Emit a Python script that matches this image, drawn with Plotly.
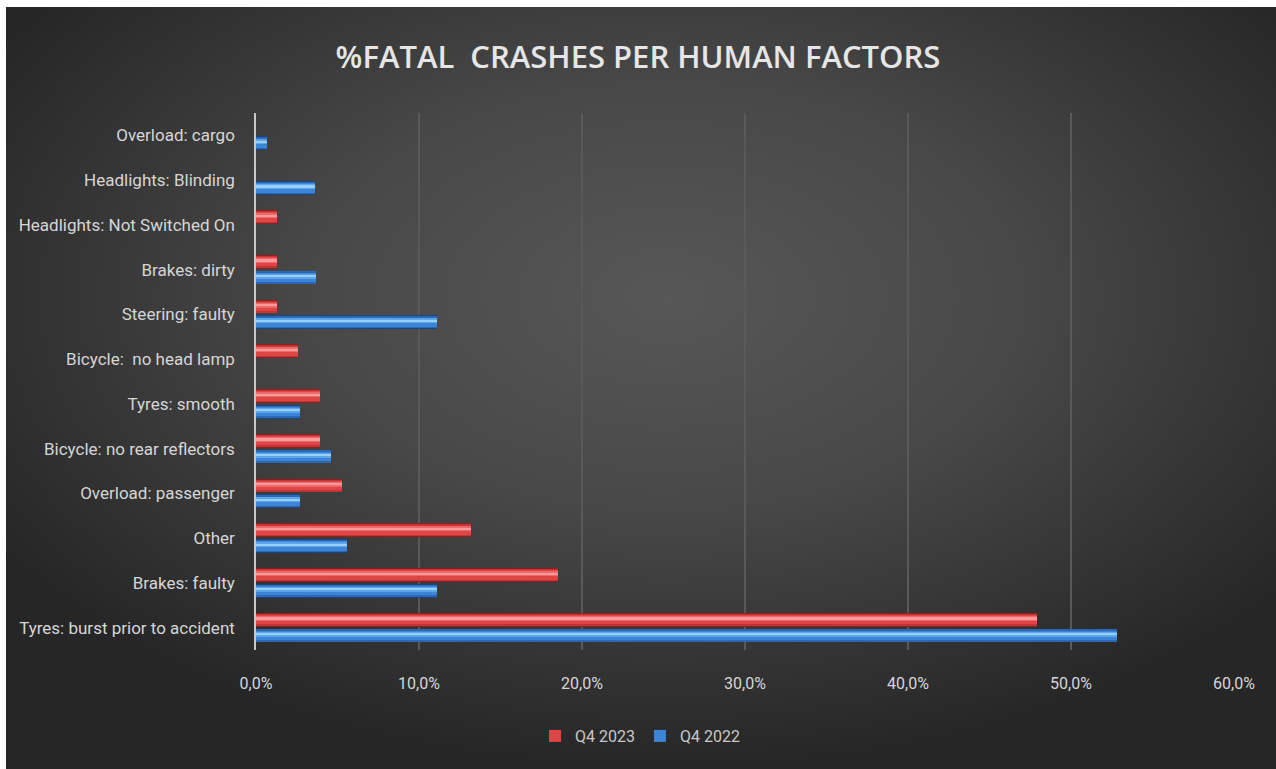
import plotly.graph_objects as go

# Human factors, listed top to bottom as shown on the chart
factors = [
    "Overload: cargo",
    "Headlights: Blinding",
    "Headlights: Not Switched On",
    "Brakes: dirty",
    "Steering: faulty",
    "Bicycle:\u00a0 no head lamp",
    "Tyres: smooth",
    "Bicycle: no rear reflectors",
    "Overload: passenger",
    "Other",
    "Brakes: faulty",
    "Tyres: burst prior to accident",
]
# Share of fatal crashes (%)
q4_2023 = [0, 0, 1.3, 1.3, 1.3, 2.6, 3.9, 3.9, 5.3, 13.2, 18.5, 47.9]
q4_2022 = [0.7, 3.6, 0, 3.7, 11.1, 0, 2.7, 4.6, 2.7, 5.6, 11.1, 52.8]
x_ticks = [0, 10, 20, 30, 40, 50, 60]
x_tick_labels = ["0,0%", "10,0%", "20,0%", "30,0%", "40,0%", "50,0%", "60,0%"]

W, H = 1276, 769
L, R, T, B = 256, 42, 113, 119
plot_w, plot_h = W - L - R, H - T - B

FONT = "Roboto, sans-serif"

fig = go.Figure()

# Cylinder-like bars: dark base, body layers and a light highlight stripe
red_layers = [
    ("#8e1f1f", 0.02, 0.31),
    ("#c43434", 0.04, 0.27),
    ("#de4646", 0.07, 0.21),
    ("#ee6a6a", 0.15, 0.11),
    ("#fb9a9a", 0.18, 0.05),
]
blue_layers = [
    ("#1a4580", -0.33, 0.31),
    ("#2a68b8", -0.31, 0.27),
    ("#3b84d6", -0.28, 0.21),
    ("#5ea6ea", -0.20, 0.11),
    ("#94d0fb", -0.17, 0.05),
]

for name, vals, layers in (("Q4 2023", q4_2023, red_layers),
                           ("Q4 2022", q4_2022, blue_layers)):
    for i, (col, off, wid) in enumerate(layers):
        fig.add_trace(go.Bar(
            x=vals, y=factors, orientation="h",
            name=name, legendgroup=name, showlegend=(i == 2),
            offset=off, width=wid,
            marker=dict(color=col, line=dict(width=0)),
            hovertemplate="%{y}: %{x:.1f}%<extra>" + name + "</extra>",
        ))

# Dark radial background panel
bg_svg = (
    "data:image/svg+xml;utf8,"
    "<svg xmlns='http://www.w3.org/2000/svg' width='1270' height='762' "
    "preserveAspectRatio='none'>"
    "<defs><radialGradient id='g' cx='0.52' cy='0.38' r='0.62'>"
    "<stop offset='0' stop-color='%23575757'/>"
    "<stop offset='0.45' stop-color='%23484848'/>"
    "<stop offset='1' stop-color='%23262626'/>"
    "</radialGradient></defs>"
    "<rect width='1270' height='762' fill='url(%23g)'/></svg>"
)

fig.update_layout(
    width=W, height=H,
    margin=dict(l=L, r=R, t=T, b=B),
    paper_bgcolor="white",
    plot_bgcolor="rgba(0,0,0,0)",
    barmode="overlay",
    font=dict(family=FONT, size=17, color="#d6d6d6"),
    images=[dict(
        source=bg_svg, xref="paper", yref="paper",
        x=(6 - L) / plot_w, y=(H - B - 7) / plot_h,
        sizex=(W - 6) / plot_w, sizey=(H - 7) / plot_h,
        xanchor="left", yanchor="top", sizing="stretch", layer="below",
    )],
    title=dict(
        text="%FATAL  CRASHES PER HUMAN FACTORS",
        x=0.5, xref="container", xanchor="center",
        y=1 - 57 / H, yref="container", yanchor="middle",
        font=dict(family="Open Sans, sans-serif", size=31, color="#e6e6e6",
                  weight=600),
    ),
    xaxis=dict(
        range=[0, 60], tickvals=x_ticks, ticktext=x_tick_labels,
        showgrid=True, gridcolor="#595959", gridwidth=2,
        zeroline=False, showline=False, ticks="",
        ticklabelstandoff=22,
        tickfont=dict(family=FONT, size=16, color="#d6d6d6"),
        fixedrange=True,
    ),
    yaxis=dict(
        categoryorder="array", categoryarray=factors[::-1],
        range=[-0.5, len(factors) - 0.5],
        showgrid=False, zeroline=False,
        showline=True, linecolor="#c8c8c8", linewidth=1.5,
        ticks="", ticklabelstandoff=16,
        tickfont=dict(family=FONT, size=17, color="#d6d6d6"),
        fixedrange=True,
    ),
    legend=dict(
        orientation="h", x=(640 - L) / plot_w, xanchor="center",
        y=-(736 - (H - B)) / plot_h, yanchor="middle",
        bgcolor="rgba(0,0,0,0)",
        font=dict(family=FONT, size=16, color="#c8c8c8"),
        itemwidth=30, traceorder="normal",
    ),
    bargap=0,
)

fig.write_html("out.html")
